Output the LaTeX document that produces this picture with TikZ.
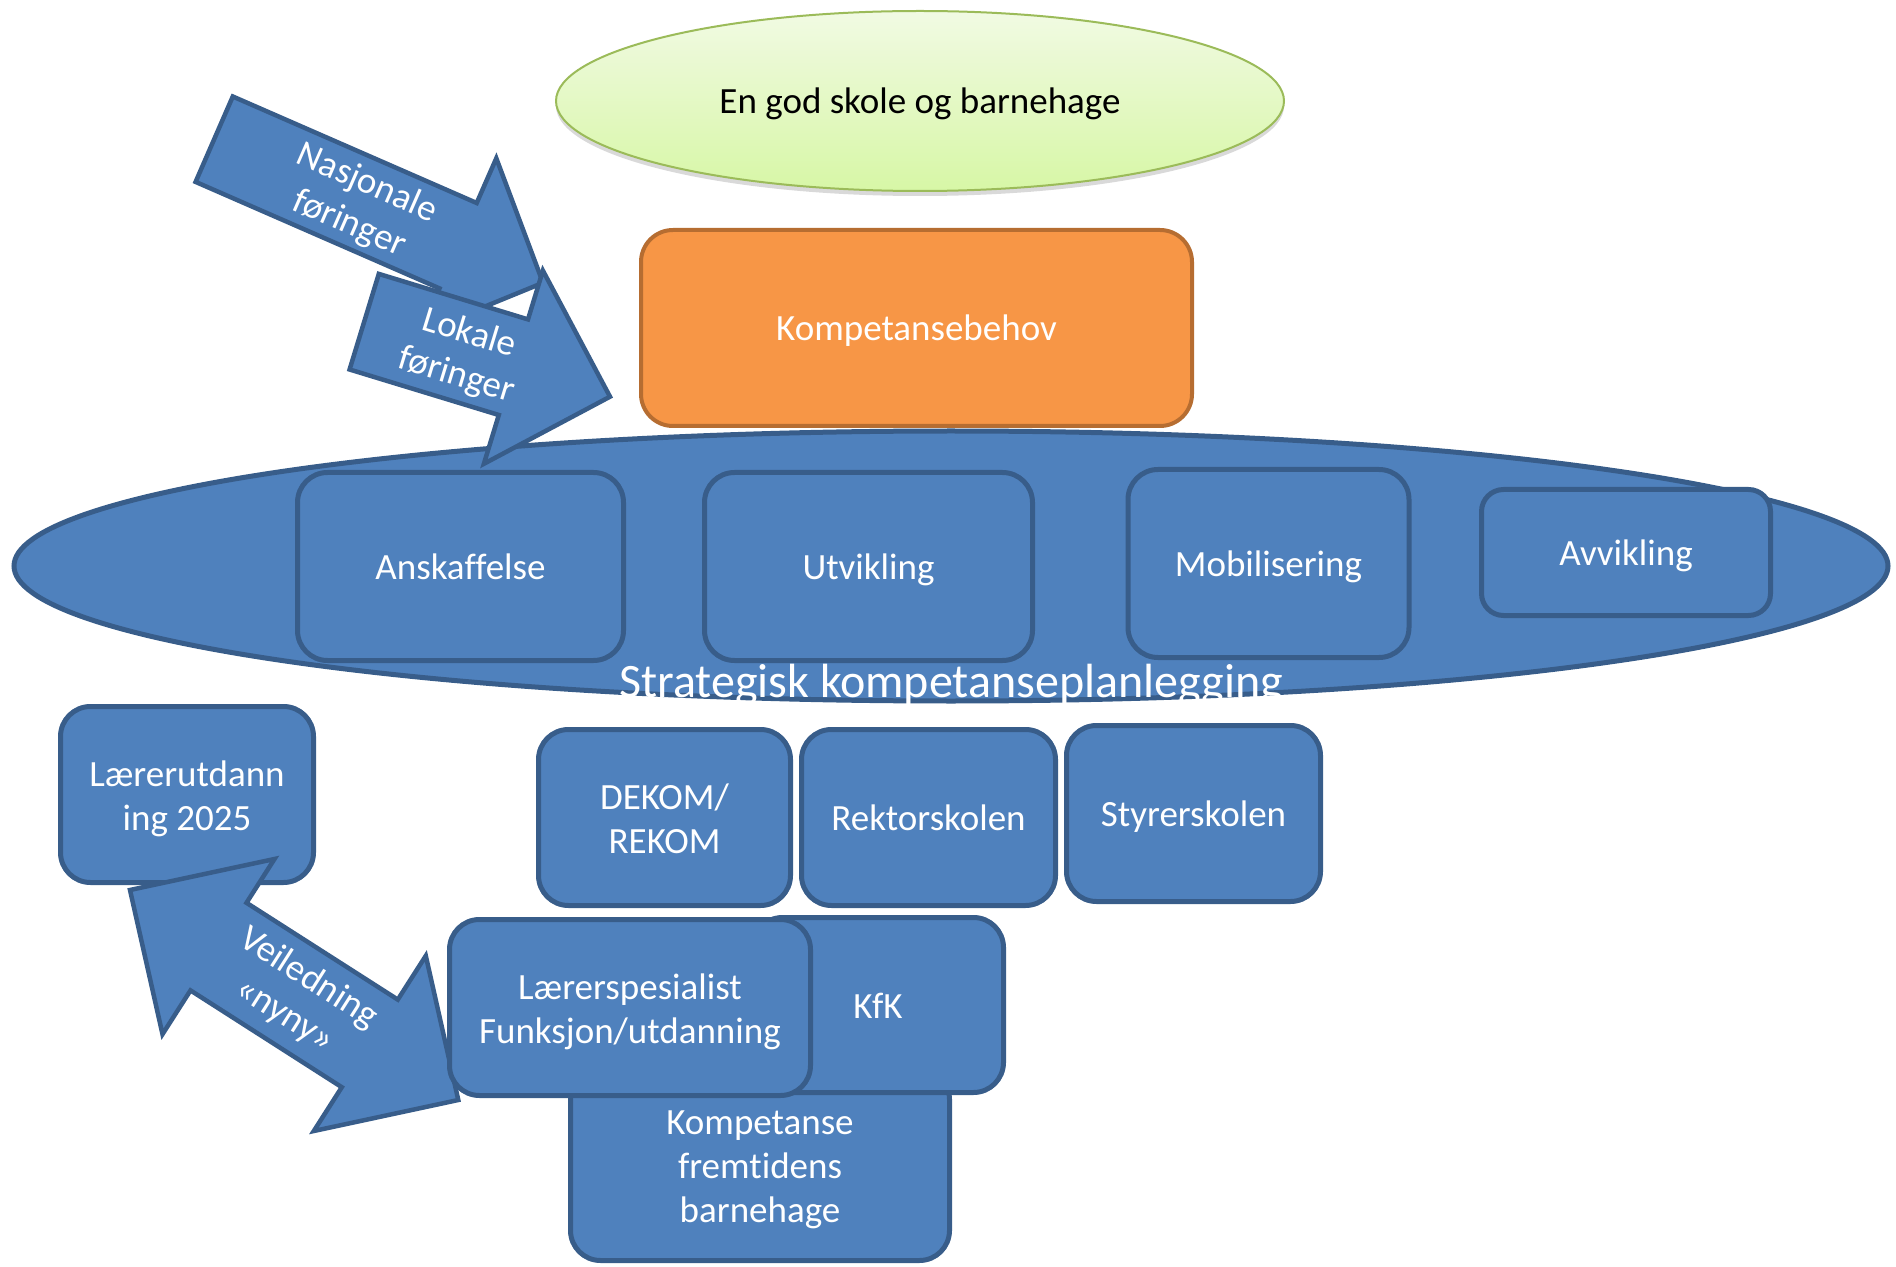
\documentclass[tikz,border=0pt]{standalone}
\usepackage{fontspec}
\setmainfont{Carlito}[Ligatures=NoCommon]
\usepackage{tikz}
\usetikzlibrary{shapes,arrows,positioning}

\begin{document}
\begin{tikzpicture}[x=0.5pt,y=0.5pt,yscale=-1,xscale=1,
  bluebox/.style={draw, color={rgb, 255:red, 56; green, 93; blue, 138 }, fill={rgb, 255:red, 79; green, 129; blue, 189 }, line width=2.5pt, rounded corners=15pt, text=white, align=center, inner sep=0pt, font=\fontsize{18.5}{22}\selectfont, text height=17pt, text depth=4pt},
  twolines/.style={text height=39.5pt},
  threelines/.style={text height=61.5pt},
  blueshape/.style={color={rgb, 255:red, 56; green, 93; blue, 138 }, fill={rgb, 255:red, 79; green, 129; blue, 189 }, line width=2.25pt},
  arrowtext/.style={text=white, align=center, inner sep=0.75pt, font=\fontsize{18.5}{22}\selectfont}]
\useasboundingbox (0,0) rectangle (1896,1267);

%Shape: Ellipse (goal, with shadow)
\fill [color={rgb, 255:red, 0; green, 0; blue, 0 }, fill opacity=0.15] (920,106) ellipse (364 and 90);
\draw [color={rgb, 255:red, 155; green, 187; blue, 89 }, line width=1pt, top color={rgb, 255:red, 241; green, 250; blue, 227 }, bottom color={rgb, 255:red, 215; green, 247; blue, 166 }] (920,101) ellipse (364 and 90);
% Text Node
\node [font=\fontsize{18.5}{22}\selectfont, inner sep=0pt, text height=17pt, text depth=4pt] (goal) at (920,101) {En god skole og barnehage};

%Right Arrow: Nasjonale
\draw [blueshape] (232.8,96.5) -- (476.7,203.0) -- (496.3,158.3) -- (543.0,282.8) -- (419.9,333.1) -- (439.5,288.4) -- (195.6,181.9) -- cycle ;
% Text Node
\node [arrowtext, rotate=-23.6] (nasjonale) at (358,204) {Nasjonale\\føringer};

%Shape: Ellipse (strategisk)
\draw [blueshape, line width=2.5pt] (951,566) ellipse (937 and 135);

%Shape: Rounded Rect (behov)
\node [bluebox, color={rgb, 255:red, 182; green, 109; blue, 49 }, fill={rgb, 255:red, 247; green, 150; blue, 70 }, text=white, line width=2pt, rounded corners=16pt, minimum width=275.5pt, minimum height=98pt] (behov) at (916.5,328) {Kompetansebehov};

%Right Arrow: Lokale
\draw [blueshape] (378.8,273.9) -- (528.0,319.4) -- (542.9,270.6) -- (610.0,396.7) -- (483.9,463.8) -- (498.8,415.0) -- (349.6,369.5) -- cycle ;
% Text Node
\node [arrowtext, rotate=-17] (lokale) at (462.7,355) {Lokale\\føringer};

%Shape: Rounded Rect (phases)
\node [bluebox, minimum width=163pt, minimum height=94pt] (anskaffelse) at (460.5,566.5) {Anskaffelse};
\node [bluebox, minimum width=164pt, minimum height=94pt] (utvikling) at (868.5,566.5) {Utvikling};
\node [bluebox, minimum width=140.5pt, minimum height=94pt] (mobilisering) at (1268.5,563.5) {Mobilisering};
\node [bluebox, rounded corners=11pt, minimum width=144.5pt, minimum height=63pt] (avvikling) at (1626,552.5) {Avvikling};

% Text Node
\node [text=white, inner sep=0pt, anchor=base, font=\fontsize{24}{29}\selectfont] (strategi) at (951,697.5) {Strategisk kompetanseplanlegging};

%Shape: Rounded Rect (laererutdanning)
\node [bluebox, twolines, minimum width=126.5pt, minimum height=88pt] (laererutd) at (187,794.5) {Lærerutdann\\ing 2025};

%Double Arrow: Veiledning
\draw [blueshape] (130,890) -- (274.5,859.0) -- (246.5,902.8) -- (397.8,999.6) -- (425.8,955.8) -- (458.3,1100.0) -- (313.8,1131.0) -- (341.8,1087.2) -- (190.5,990.4) -- (162.5,1034.2) -- cycle ;
% Text Node
\node [arrowtext, rotate=-32.6] (veiledning) at (296.7,996.7) {Veiledning\\«nyny»};

%Shape: Rounded Rect (programs)
\node [bluebox, twolines, minimum width=126pt, minimum height=88pt] (dekom) at (664.5,817.5) {DEKOM/\\REKOM};
\node [bluebox, minimum width=127pt, minimum height=88pt] (rektor) at (928.5,817.5) {Rektorskolen};
\node [bluebox, minimum width=127pt, minimum height=88pt] (styrer) at (1193.5,813.5) {Styrerskolen};
\node [bluebox, threelines, minimum width=189.5pt, minimum height=95.5pt] (kompbhg) at (760,1165) {Kompetanse\\fremtidens\\barnehage};
\node [bluebox, minimum width=125.5pt, minimum height=87.5pt] (kfk) at (878,1005) {KfK};
\node [bluebox, twolines, minimum width=180.5pt, minimum height=88pt] (laererspes) at (630,1007.5) {Lærerspesialist\\Funksjon/utdanning};
\end{tikzpicture}
\end{document}
